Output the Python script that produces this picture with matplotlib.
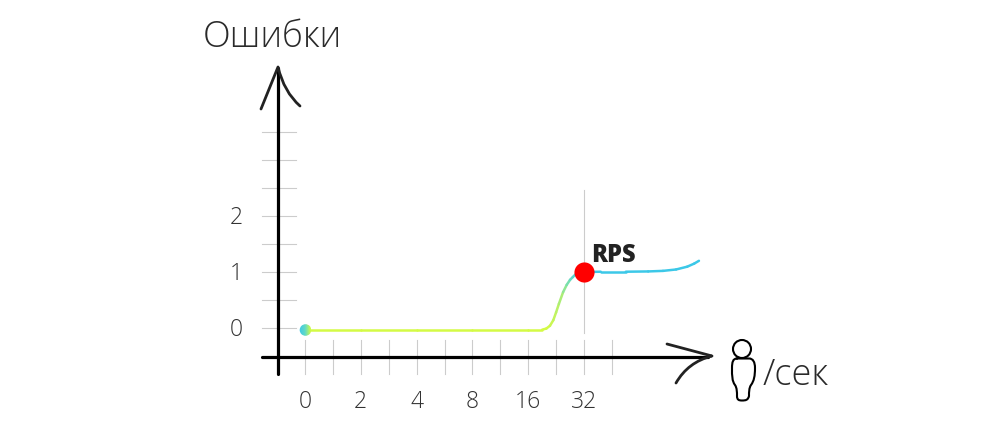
import numpy as np
import matplotlib
matplotlib.use("Agg")
import matplotlib.pyplot as plt
from matplotlib.collections import LineCollection
from matplotlib.colors import LinearSegmentedColormap
from matplotlib.patches import Circle, PathPatch
from matplotlib.path import Path
from matplotlib.transforms import Affine2D

plt.rcParams['font.family'] = ['Open Sans', 'DejaVu Sans']

# x is the position on the doubling scale, one step = one grid tick
x_ticks = [0, 2, 4, 6, 8, 10]
x_labels = ['0', '2', '4', '8', '16', '32']
x_grid = [0, 1, 2, 3, 4, 5, 6, 7, 8, 9, 10, 11]
y_ticks = [0, 1, 2]
y_grid = [0, 0.5, 1, 1.5, 2, 2.5, 3, 3.5]

curve_x = [0, 2, 4, 6, 8, 8.5, 8.65, 8.78, 8.9, 9.0, 9.1, 9.25, 9.38, 9.5, 9.6, 9.68, 9.85, 10,
           10.6, 11.5, 12.3, 12.83, 13.3, 13.7, 13.95, 14.12]
curve_y = [-0.03, -0.03, -0.03, -0.03, -0.03, -0.03, -0.01, 0.04, 0.14, 0.28, 0.43, 0.64, 0.77, 0.86, 0.91, 0.95, 0.98, 1,
           1.005, 1.005, 1.01, 1.02, 1.045, 1.095, 1.15, 1.2]
rps_x = 10
rps_y = 1

LEFT = 305.0
BASE = 328.0
SX = 27.9
SY = 56.0

fig = plt.figure(figsize=(10, 4.36), dpi=100)
ax = fig.add_axes([0, 0, 1, 1])
ax.set_xlim(-LEFT / SX, (1000 - LEFT) / SX)
ax.set_ylim((BASE - 436) / SY, BASE / SY)
ax.axis('off')

# pixel space of the picture, y going down, for the hand drawn bits
pix = Affine2D().scale(1, -1).translate(0, 436)
GREY = '#cccccc'
INK = '#222222'

for y in y_grid:
    ax.plot([262, 296], [BASE - y * SY] * 2, color=GREY, lw=0.8, transform=pix, zorder=1)
for x in x_grid:
    ax.plot([LEFT + x * SX] * 2, [340, 374], color=GREY, lw=0.8, transform=pix, zorder=1)
ax.plot([LEFT + rps_x * SX] * 2, [190, 333], color=GREY, lw=0.8, transform=pix, zorder=1)

# axes
ax.plot([278, 278], [68, 374], color='black', lw=2.3, transform=pix, solid_capstyle='round', zorder=3)
ax.plot([262, 708], [357, 357], color='black', lw=2.3, transform=pix, solid_capstyle='round', zorder=3)


def stroke(verts, codes, color=INK, lw=2.0):
    ax.add_patch(PathPatch(Path(verts, codes), fill=False, edgecolor=color, lw=lw,
                           capstyle='round', joinstyle='round', transform=pix, zorder=4))


M, L, C = Path.MOVETO, Path.LINETO, Path.CURVE3
stroke([(261, 109), (278, 67), (284, 92), (300, 106)], [M, L, C, C])
stroke([(667, 344), (712, 356), (688, 362), (676, 383)], [M, L, C, C])

# person icon
ax.add_patch(Circle((742, 349), 9, fill=False, edgecolor='black', lw=1.5, transform=pix, zorder=4))
C4 = Path.CURVE4
body = [(737, 358.5),
        (733, 358.5), (732, 362), (732, 368),
        (732, 376), (732, 381), (735, 385),
        (737, 388), (737, 392), (737, 396),
        (737, 400), (739, 400.5), (742, 400.5),
        (746, 400.5), (748, 400), (749, 396),
        (749, 392), (749, 388), (751, 385),
        (754, 381), (755, 376), (755, 368),
        (755, 362), (753, 358.5), (749, 358.5)]
stroke(body + [(737, 358.5)], [M] + [C4] * 24 + [L], color='black', lw=1.5)

# curve, yellow on the flat part and blue after the knee
cmap = LinearSegmentedColormap.from_list('curve', ['#d4fb45', '#b4ef6e', '#5fd9c8', '#3cc8e8'])
pts = np.column_stack([curve_x, curve_y])
segs = np.stack([pts[:-1], pts[1:]], axis=1)
mid = (pts[:-1, 0] + pts[1:, 0]) / 2
col = np.clip((mid - 8.7) / 1.3, 0, 1)
ax.add_collection(LineCollection(segs, colors=cmap(col), lw=1.8, capstyle='round', zorder=5))

# start dot, teal fading into yellow
grad = np.linspace(0, 1, 64).reshape(1, -1)
dot_cmap = LinearSegmentedColormap.from_list('dot', ['#3cc8e8', '#5fd9c8', '#d4fb45'])
r_x, r_y = 6 / SX, 6 / SY
dot_x = 0.5 / SX
img = ax.imshow(grad, cmap=dot_cmap, extent=[dot_x - r_x, dot_x + r_x, curve_y[0] - r_y, curve_y[0] + r_y],
                aspect='auto', zorder=6)
img.set_clip_path(Circle((LEFT + 0.5, 330), 5.8, transform=pix))
ax.set_xlim(-LEFT / SX, (1000 - LEFT) / SX)
ax.set_ylim((BASE - 436) / SY, BASE / SY)

ax.scatter([rps_x], [rps_y], s=210, color='#ff0000', linewidths=0, zorder=7)

for x, lab in zip(x_ticks, x_labels):
    ax.text(x, (BASE - 402) / SY, lab, ha='center', va='center', fontsize=16.5, color='#333333', fontweight=300)
for y in y_ticks:
    ax.text(-68.5 / SX, y - 0.03, str(y), ha='center', va='center', fontsize=16.5, color='#333333', fontweight=300)

ax.text(203, 47, 'Ошибки', transform=pix, fontsize=26, color='#2a2a2a', fontweight=300, va='baseline')
ax.text(763, 385, '/сек', transform=pix, fontsize=26, color='#2a2a2a', fontweight=300, va='baseline')
ax.text(591, 262, 'RPS', transform=pix, fontsize=17, color=INK, fontweight=800, va='baseline')

fig.savefig('out.png', dpi=100)
